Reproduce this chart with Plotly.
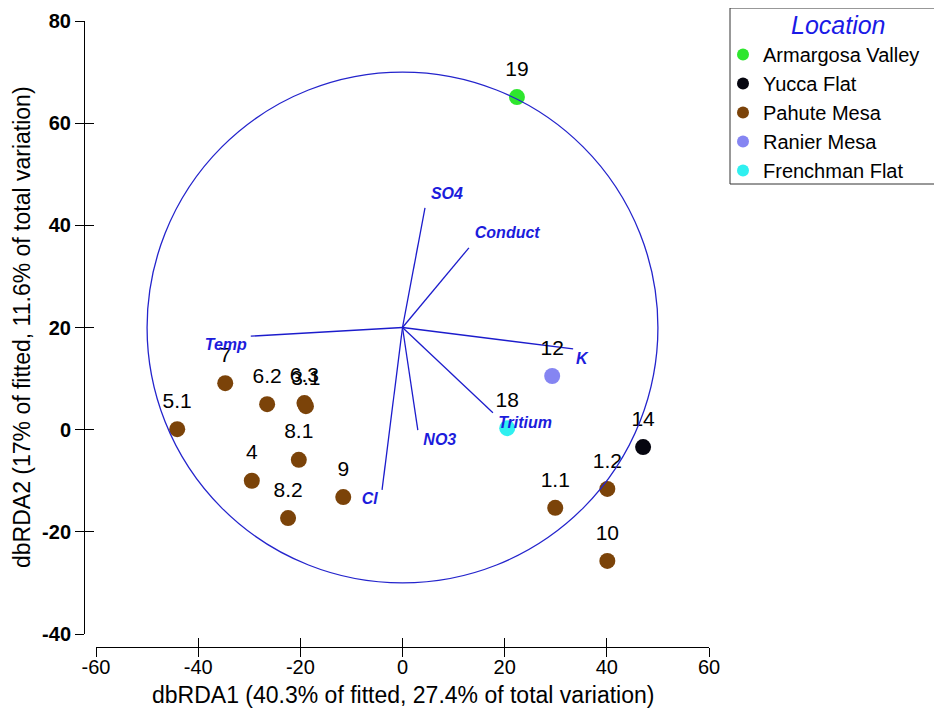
import plotly.graph_objects as go

FONT = "Arial, Liberation Sans, sans-serif"

# ---------------- data ----------------
locations = ["Armargosa Valley", "Yucca Flat", "Pahute Mesa", "Ranier Mesa", "Frenchman Flat"]
location_colors = ["#2ee62e", "#05050f", "#7b4309", "#8585f2", "#2ff0f0"]
legend_title = "Location"

sample_ids = ["19", "14", "1.1", "1.2", "10", "7", "6.2", "6.3", "3.1",
              "5.1", "8.1", "4", "8.2", "9", "12", "18"]
sample_loc = ["Armargosa Valley", "Yucca Flat", "Pahute Mesa", "Pahute Mesa",
              "Pahute Mesa", "Pahute Mesa", "Pahute Mesa", "Pahute Mesa",
              "Pahute Mesa", "Pahute Mesa", "Pahute Mesa", "Pahute Mesa",
              "Pahute Mesa", "Pahute Mesa", "Ranier Mesa", "Frenchman Flat"]
dbrda1 = [22.4, 47.1, 29.9, 40.1, 40.1, -34.7, -26.5, -19.2, -18.9,
          -44.1, -20.3, -29.5, -22.4, -11.6, 29.3, 20.5]
dbrda2 = [65.1, -3.4, -15.3, -11.6, -25.7, 9.1, 5.0, 5.2, 4.6,
          0.1, -5.9, -10.0, -17.3, -13.2, 10.5, 0.3]

vector_names = ["SO4", "Conduct", "Temp", "K", "Tritium", "NO3", "Cl"]
vector_end_x = [4.4, 13.0, -29.7, 33.4, 17.7, 3.0, -4.0]
vector_end_y = [43.4, 35.6, 18.3, 15.8, 3.3, -0.1, -11.8]
vector_label_x = [8.7, 20.5, -34.6, 35.1, 24.0, 7.3, -6.4]
vector_label_y = [45.9, 38.3, 16.4, 13.6, 1.1, -2.2, -13.8]

circle_center = (0.0, 20.0)
circle_radius = 50.0

x_ticks = [-60, -40, -20, 0, 20, 40, 60]
y_ticks = [-40, -20, 0, 20, 40, 60, 80]
x_title = "dbRDA1 (40.3% of fitted, 27.4% of total variation)"
y_title = "dbRDA2 (17% of fitted, 11.6% of total variation)"

# ---------------- figure ----------------
fig = go.Figure()

for loc, col in zip(locations, location_colors):
    xs = [x for x, l in zip(dbrda1, sample_loc) if l == loc]
    ys = [y for y, l in zip(dbrda2, sample_loc) if l == loc]
    fig.add_trace(go.Scatter(
        x=xs, y=ys, mode="markers", name=loc,
        marker=dict(size=16, color=col, line=dict(width=0)),
        hoverinfo="skip"))

vx, vy = [], []
for ex, ey in zip(vector_end_x, vector_end_y):
    vx += [circle_center[0], ex, None]
    vy += [circle_center[1], ey, None]
fig.add_trace(go.Scatter(x=vx, y=vy, mode="lines",
                         line=dict(color="#1c1ccc", width=1.3),
                         showlegend=False, hoverinfo="skip"))

label_offset = 5.2
fig.add_trace(go.Scatter(
    x=dbrda1, y=[y + label_offset for y in dbrda2], mode="text",
    text=sample_ids, textposition="middle center",
    textfont=dict(family=FONT, size=21, color="black"),
    showlegend=False, hoverinfo="skip"))

fig.add_trace(go.Scatter(
    x=vector_label_x, y=vector_label_y, mode="text",
    text=vector_names, textposition="middle center",
    textfont=dict(family=FONT, size=16, color="#1c1cdc", style="italic", weight="bold"),
    showlegend=False, hoverinfo="skip"))

fig.add_trace(go.Scatter(x=[None], y=[None], xaxis="x2", yaxis="y2",
                         showlegend=False, hoverinfo="skip"))

fig.add_shape(type="circle", xref="x", yref="y",
              x0=circle_center[0] - circle_radius, x1=circle_center[0] + circle_radius,
              y0=circle_center[1] - circle_radius, y1=circle_center[1] + circle_radius,
              line=dict(color="#2424cc", width=1.3), layer="above")

# page body has an 8px margin; size the figure so it fits the window
OFF = 8
W, H = 942 - OFF, 713 - OFF


def px(x):
    return (x - OFF) / W


def py(y):
    return 1 - (y - OFF) / H


# legend frame (title + entries)
fig.add_shape(type="rect", xref="paper", yref="paper",
              x0=px(730), x1=px(960), y0=py(184), y1=py(8),
              line=dict(color="#333333", width=1), fillcolor="rgba(0,0,0,0)", layer="above")

xdom = [px(96), px(709)]
ydom = [py(634), py(21)]
xpos = py(647)
ypos = px(84)

common = dict(showgrid=False, zeroline=False, tickcolor="black", tickwidth=1, ticklen=9)

fig.update_layout(
    width=W, height=H,
    margin=dict(l=0, r=0, t=0, b=0, autoexpand=False),
    paper_bgcolor="white", plot_bgcolor="white",
    font=dict(family=FONT, color="black"),
    xaxis=dict(domain=xdom, range=[x_ticks[0], x_ticks[-1]], anchor="free", position=xpos,
               showline=True, linecolor="black", linewidth=1, ticks="outside",
               tickvals=x_ticks, ticktext=[str(v) for v in x_ticks], ticklabelstandoff=-7,
               tickfont=dict(family=FONT, size=20, color="black"), **common),
    yaxis=dict(domain=ydom, range=[y_ticks[0], y_ticks[-1]], anchor="free", position=ypos,
               showline=True, linecolor="black", linewidth=1, ticks="outside",
               tickvals=y_ticks, ticktext=[str(v) for v in y_ticks],
               tickfont=dict(family=FONT, size=20, color="black", weight="bold"), **common),
    xaxis2=dict(domain=xdom, range=[x_ticks[0], x_ticks[-1]], overlaying="x", anchor="free",
                position=xpos, showline=False, ticks="inside", tickvals=x_ticks,
                showticklabels=False, **common),
    yaxis2=dict(domain=ydom, range=[y_ticks[0], y_ticks[-1]], overlaying="y", anchor="free",
                position=ypos, showline=False, ticks="inside", tickvals=y_ticks,
                showticklabels=False, **common),
    legend=dict(x=px(723), y=py(35), xanchor="left", yanchor="top",
                borderwidth=0, bgcolor="rgba(0,0,0,0)",
                font=dict(family=FONT, size=20, color="black"),
                itemsizing="constant"),
    showlegend=True,
    annotations=[
        dict(text=legend_title, xref="paper", yref="paper", x=px(838), y=py(25),
             xanchor="center", yanchor="middle", showarrow=False,
             font=dict(family=FONT, size=25, color="#1a1ae6", style="italic")),
        dict(text=x_title, xref="paper", yref="paper", x=px(403), y=py(695),
             xanchor="center", yanchor="middle", showarrow=False,
             font=dict(family=FONT, size=23, color="black")),
        dict(text=y_title, xref="paper", yref="paper", x=px(22), y=py(327),
             xanchor="center", yanchor="middle", showarrow=False, textangle=-90,
             font=dict(family=FONT, size=23, color="black")),
    ],
)

fig.write_html("out.html")
